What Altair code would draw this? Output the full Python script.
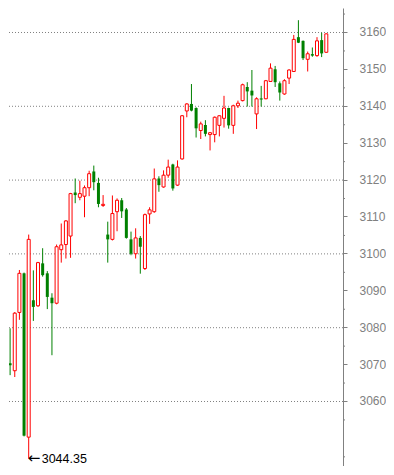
import altair as alt
import pandas as pd

# ---- data (index, open, high, low, close) ----
idx = list(range(71))
opens = [3091.0, 3089.5, 3070.2, 3068.2, 3084.0, 3094.6, 3050.2, 3087.3, 3085.8, 3097.3,
         3094.6, 3088.0, 3086.5, 3101.0, 3102.4, 3104.7, 3116.5, 3115.2, 3115.5, 3117.8,
         3122.2, 3119.1, 3113.0, 3105.1, 3103.8, 3111.3, 3114.4, 3111.9, 3103.8, 3099.9,
         3104.2, 3095.9, 3110.7, 3111.3, 3120.3, 3118.0, 3121.2, 3124.1, 3118.5, 3125.6,
         3138.6, 3140.5, 3139.4, 3133.3, 3134.8, 3132.2, 3132.2, 3134.7, 3136.6, 3139.4,
         3134.7, 3140.0, 3141.4, 3145.1, 3144.1, 3137.8, 3142.0, 3141.9, 3146.6, 3149.9,
         3146.1, 3143.2, 3147.5, 3149.3, 3158.6, 3157.6, 3152.6, 3154.0, 3153.6, 3157.8,
         3154.5]
highs = [3091.5, 3090.0, 3079.7, 3084.1, 3095.5, 3094.8, 3105.1, 3095.4, 3097.7, 3101.4,
         3095.2, 3089.2, 3102.4, 3108.1, 3109.0, 3116.4, 3120.3, 3119.7, 3118.4, 3122.4,
         3123.8, 3120.5, 3115.8, 3108.6, 3115.7, 3114.9, 3115.0, 3112.3, 3105.9, 3106.8,
         3104.7, 3110.8, 3112.5, 3123.0, 3120.9, 3122.5, 3125.4, 3124.3, 3125.2, 3137.5,
         3140.7, 3145.9, 3139.6, 3135.7, 3136.1, 3132.9, 3137.1, 3137.4, 3142.7, 3139.5,
         3140.3, 3141.4, 3146.0, 3146.4, 3149.7, 3142.3, 3145.4, 3147.0, 3151.5, 3150.8,
         3146.6, 3147.2, 3149.9, 3159.2, 3163.2, 3157.7, 3154.7, 3155.8, 3158.6, 3159.8,
         3159.6]
lows = [3088.5, 3069.5, 3067.0, 3066.5, 3082.0, 3050.4, 3044.35, 3081.7, 3085.5, 3093.7,
        3084.9, 3072.4, 3086.2, 3097.5, 3098.6, 3098.8, 3113.6, 3114.4, 3109.8, 3115.5,
        3117.1, 3112.5, 3112.6, 3097.5, 3103.5, 3106.0, 3109.6, 3104.0, 3099.5, 3098.6,
        3094.5, 3095.5, 3108.0, 3111.0, 3116.7, 3117.8, 3120.5, 3117.0, 3118.3, 3125.4,
        3136.9, 3138.5, 3131.4, 3131.0, 3131.7, 3127.9, 3130.1, 3131.7, 3134.1, 3133.8,
        3132.4, 3139.4, 3141.2, 3139.8, 3139.8, 3133.7, 3139.8, 3141.8, 3146.5, 3145.1,
        3141.4, 3143.0, 3145.9, 3149.2, 3157.0, 3152.4, 3149.3, 3153.3, 3153.3, 3153.2,
        3154.4]
closes = [3089.5, 3070.0, 3069.7, 3083.8, 3094.6, 3050.6, 3103.8, 3085.5, 3097.5, 3094.1,
          3088.2, 3086.5, 3101.8, 3102.3, 3108.8, 3116.2, 3115.8, 3116.2, 3117.8, 3121.6,
          3119.3, 3113.4, 3113.3, 3103.8, 3110.8, 3114.4, 3111.4, 3104.2, 3099.9, 3104.2,
          3101.8, 3110.5, 3111.8, 3120.2, 3118.5, 3121.2, 3123.4, 3117.6, 3123.4, 3137.3,
          3140.5, 3138.7, 3133.9, 3135.1, 3132.4, 3132.7, 3136.9, 3137.3, 3139.4, 3134.7,
          3140.0, 3140.7, 3145.7, 3143.9, 3142.8, 3141.9, 3141.7, 3146.8, 3150.2, 3146.4,
          3143.6, 3146.8, 3149.7, 3158.0, 3157.1, 3152.9, 3154.1, 3153.6, 3157.6, 3154.2,
          3159.5]

label_values = [3060, 3070, 3080, 3090, 3100, 3110, 3120, 3130, 3140, 3150, 3160]
grid_values = [3060, 3080, 3100, 3120, 3140, 3160]
minor_values = [3045, 3055, 3065, 3075, 3085, 3095, 3105, 3115, 3125, 3135, 3145, 3155, 3165]
note_index = [6]
note_value = [3044.35]
note_arrow = ["\u2190"]
note_text = ["3044.35"]

df = pd.DataFrame({"i": idx, "open": opens, "high": highs, "low": lows, "close": closes})

W, H = 334, 458
GRAY = "#808080"
RED = "#ff0000"
GREEN = "#008000"

xscale = alt.Scale(domain=[1.7634, 73.591], nice=False, zero=False, padding=0)
yscale = alt.Scale(domain=[3042.38, 3166.504], nice=False, zero=False, padding=0)
yaxis = alt.Axis(orient="right", values=label_values, title=None, grid=False,
                 domainColor=GRAY, tickColor=GRAY, tickSize=4, labelColor=GRAY,
                 labelFont="Liberation Sans", labelFontSize=12, labelPadding=12,
                 labelFlush=False, labelOverlap=False, format="d")

X = alt.X("i:Q", scale=xscale, axis=None)

base = alt.Chart(df)

wicks = base.mark_rule(strokeWidth=1, clip=True).encode(
    x=X,
    y=alt.Y("low:Q", scale=yscale, axis=yaxis),
    y2="high:Q",
    color=alt.condition("datum.close >= datum.open", alt.value(RED), alt.value(GREEN)),
)

up_body = base.transform_filter("datum.close >= datum.open").mark_bar(
    size=3, fill="white", stroke=RED, strokeWidth=1, clip=True
).encode(x=X, y=alt.Y("open:Q", scale=yscale, axis=yaxis), y2="close:Q")

down_body = base.transform_filter("datum.close < datum.open").mark_bar(
    size=3, color=GREEN, clip=True
).encode(x=X, y=alt.Y("open:Q", scale=yscale, axis=yaxis), y2="close:Q")

grid = alt.Chart(pd.DataFrame({"v": grid_values})).mark_rule(
    color=GRAY, strokeDash=[1, 2], strokeWidth=1, yOffset=0.5
).encode(y=alt.Y("v:Q", scale=yscale, axis=yaxis), x=alt.value(0), x2=alt.value(W))

minor = alt.Chart(pd.DataFrame({"v": minor_values})).mark_rule(
    color=GRAY, strokeWidth=1, yOffset=0.5
).encode(y=alt.Y("v:Q", scale=yscale, axis=yaxis), x=alt.value(W), x2=alt.value(W + 2))

note_df = pd.DataFrame({"i": note_index, "v": note_value, "a": note_arrow, "t": note_text})
arrow = alt.Chart(note_df).mark_text(
    align="left", baseline="middle", font="DejaVu Sans", fontSize=15, color="black", dx=-1, dy=-1
).encode(x=X, y=alt.Y("v:Q", scale=yscale, axis=yaxis), text="a:N")
note = alt.Chart(note_df).mark_text(
    align="left", baseline="middle", font="Liberation Sans", fontSize=12.5, color="black", dx=13
).encode(x=X, y=alt.Y("v:Q", scale=yscale, axis=yaxis), text="t:N")

chart = alt.layer(grid, minor, wicks, up_body, down_body, arrow, note).properties(
    width=W, height=H, padding=0
).configure_view(stroke=None)

chart.save("out.html", embed_options={"renderer": "svg", "actions": False})
